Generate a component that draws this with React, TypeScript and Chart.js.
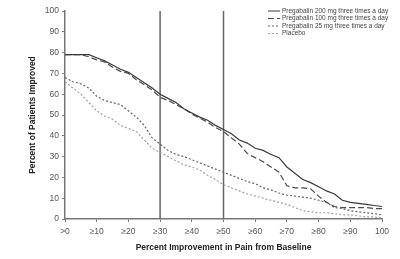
import React, { useEffect, useRef } from "react";
import { Chart, registerables } from "chart.js";

Chart.register(...registerables);

const improvementLevels = [
  0, 2.5, 5, 7.5, 10, 12.5, 15, 17.5, 20, 22.5, 25, 27.5, 30, 32.5, 35, 37.5, 40, 42.5, 45, 47.5, 50,
  52.5, 55, 57.5, 60, 62.5, 65, 67.5, 70, 72.5, 75, 77.5, 80, 82.5, 85, 87.5, 90, 92.5, 95, 97.5, 100,
];

const pregabalin200 = [
  79, 79, 79, 79, 77.5, 76, 74, 72, 70.5, 68, 65.5, 63, 60, 58, 56, 53, 51, 49, 47.5, 45, 43,
  41, 38, 36.5, 34, 33, 31, 29.5, 25, 22, 19, 17.5, 15.5, 13.5, 12, 9, 8, 7.5, 7, 6.5, 6,
];
const pregabalin100 = [
  79, 79, 79, 78, 76.5, 75.5, 73, 71, 70, 67, 64.5, 62, 58.5, 57, 55, 53, 50.5, 48.5, 46.5, 44, 42,
  39, 36, 31.5, 29.5, 27.5, 25, 22.5, 16, 15, 15, 14.5, 11, 8, 6, 5.5, 5.5, 5.5, 5.5, 5, 5,
];
const pregabalin25 = [
  68, 66, 65, 63, 59, 57, 56, 55, 52, 49, 45, 39, 36, 33, 31, 30, 28.5, 27, 25.5, 24, 22.5,
  21, 19.5, 18, 17, 15, 14, 12.5, 11.5, 11, 10.5, 10, 9, 8, 5.5, 5, 4, 3.5, 3, 2.5, 2,
];
const placebo = [
  66, 63, 60, 56, 52, 49.5, 48, 45, 43.5, 42, 38, 34, 32, 30, 28, 26, 25, 23.5, 21, 19, 16.5,
  15, 13.5, 12, 11, 10, 9, 8, 7, 5.5, 4, 3.5, 3, 3, 2.5, 2, 2, 1.5, 1, 1, 0.5,
];

const seriesLabels = [
  "Pregabalin 200 mg three times a day",
  "Pregabalin 100 mg three times a day",
  "Pregabalin 25 mg three times a day",
  "Placebo",
];

const xTickValues = [0, 10, 20, 30, 40, 50, 60, 70, 80, 90, 100];
const xTickLabels = [">0", "≥10", "≥20", "≥30", "≥40", "≥50", "≥60", "≥70", "≥80", "≥90", "100"];
const thresholdLines = [30, 50];

const FONT = "'Liberation Sans', Arial, sans-serif";

const insideLegend = {
  id: "insideLegend",
  afterDatasetsDraw(chart: any) {
    const ctx = chart.ctx;
    const rowsY = [11, 18.5, 26, 33.5];
    ctx.save();
    ctx.font = `6.5px ${FONT}`;
    ctx.textBaseline = "middle";
    ctx.textAlign = "left";
    for (let i = 0; i < seriesLabels.length; i++) {
      const ds = chart.data.datasets[i];
      const y = rowsY[i];
      ctx.strokeStyle = ds.borderColor;
      ctx.lineWidth = 1;
      ctx.setLineDash(ds.borderDash || []);
      ctx.beginPath();
      ctx.moveTo(268, y);
      ctx.lineTo(280, y);
      ctx.stroke();
      ctx.setLineDash([]);
      ctx.fillStyle = "#444";
      ctx.fillText(ds.label, 282, y);
    }
    ctx.restore();
  },
};

export default function App() {
  const canvasRef = useRef<HTMLCanvasElement | null>(null);

  useEffect(() => {
    if (!canvasRef.current) return;
    const mk = (ys: number[]) => improvementLevels.map((x, i) => ({ x, y: ys[i] }));
    const styles = [
      { color: "#3a3a3a", dash: [], width: 1.2 },
      { color: "#4a4a4a", dash: [6, 3], width: 1.2 },
      { color: "#666666", dash: [2, 2], width: 1.2 },
      { color: "#a0a0a0", dash: [2, 2], width: 1.2 },
    ];
    const seriesData = [pregabalin200, pregabalin100, pregabalin25, placebo];
    const datasets: any[] = seriesData.map((ys, i) => ({
      label: seriesLabels[i],
      data: mk(ys),
      borderColor: styles[i].color,
      borderDash: styles[i].dash,
      borderWidth: styles[i].width,
      pointRadius: 0,
      tension: 0,
      fill: false,
    }));
    thresholdLines.forEach((t) => {
      datasets.push({
        label: "",
        data: [
          { x: t, y: 0 },
          { x: t, y: 100 },
        ],
        borderColor: "#666",
        borderWidth: 1.5,
        pointRadius: 0,
        fill: false,
      });
    });

    const chart = new Chart(canvasRef.current, {
      type: "line",
      data: { datasets },
      options: {
        responsive: false,
        animation: false,
        devicePixelRatio: 1,
        layout: { padding: { top: 11, right: 18, left: 0, bottom: 0 } },
        plugins: { legend: { display: false }, tooltip: { enabled: false } },
        scales: {
          x: {
            type: "linear",
            min: 0,
            max: 100,
            afterFit: (s: any) => {
              s.height = 40;
            },
            afterBuildTicks: (s: any) => {
              s.ticks = xTickValues.map((v) => ({ value: v }));
            },
            ticks: {
              autoSkip: false,
              maxRotation: 0,
              padding: 5,
              color: "#555",
              font: { family: FONT, size: 8.5 },
              callback: (v: any) => xTickLabels[xTickValues.indexOf(Number(v))],
            },
            grid: { drawOnChartArea: false, drawTicks: true, tickLength: 3, color: "#777" },
            border: { display: true, color: "#777", width: 1.5 },
            title: {
              display: true,
              text: "Percent Improvement in Pain from Baseline",
              color: "#222",
              font: { family: FONT, size: 8.5, weight: "bold" },
              padding: { top: 0, bottom: 6 },
            },
          },
          y: {
            min: 0,
            max: 100,
            afterFit: (s: any) => {
              s.width = 65;
            },
            ticks: {
              stepSize: 10,
              padding: 3,
              color: "#555",
              font: { family: FONT, size: 8.5 },
            },
            grid: { drawOnChartArea: false, drawTicks: true, tickLength: 3, color: "#777" },
            border: { display: true, color: "#777", width: 1.5 },
            title: {
              display: true,
              text: "Percent of Patients Improved",
              color: "#222",
              font: { family: FONT, size: 8.5, weight: "bold" },
              padding: { top: 28, bottom: 0 },
            },
          },
        },
      },
      plugins: [insideLegend],
    } as any);
    return () => chart.destroy();
  }, []);

  return (
    <div style={{ position: "absolute", left: 0, top: 0, width: 400, height: 259, background: "#fff" }}>
      <canvas ref={canvasRef} width={400} height={259} />
    </div>
  );
}
